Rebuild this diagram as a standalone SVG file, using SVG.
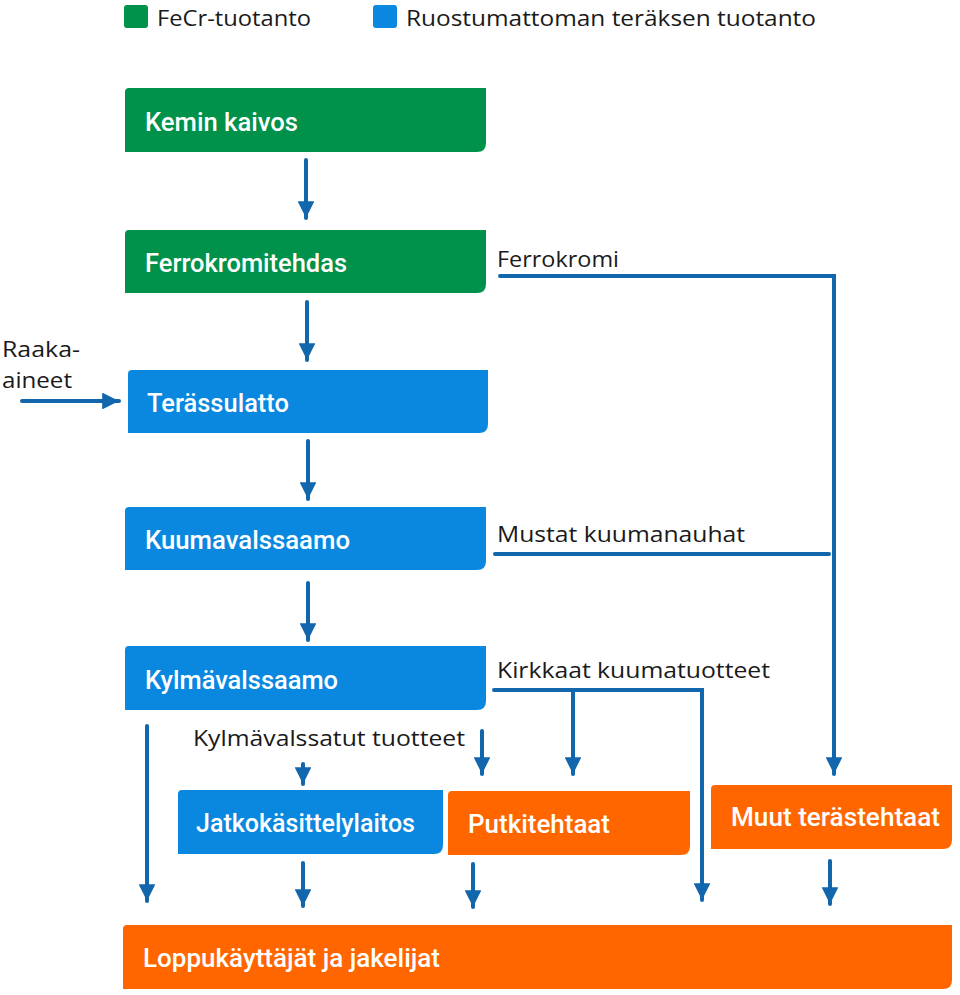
<svg xmlns="http://www.w3.org/2000/svg" width="960" height="995" viewBox="0 0 960 995">
<defs>
<style>
.box-g{fill:#00914B}
.box-b{fill:#0A88DF}
.box-o{fill:#FF6600}
.bt{font-family:Roboto,"Liberation Sans",sans-serif;font-weight:500;font-size:26px;fill:#fff}
.lt{font-family:"Open Sans","Liberation Sans",sans-serif;font-size:22px;fill:#1a1a1a}
.conn{stroke:#1266AC;stroke-width:4;fill:none;stroke-linecap:round;stroke-linejoin:miter}
</style>
<marker id="ah" viewBox="0 0 10 10" refX="10" refY="5" markerWidth="4.2" markerHeight="4.2" orient="auto" markerUnits="strokeWidth">
<path d="M0,0 L10,5 L0,10 z" fill="#1266AC"/>
</marker>
</defs>
<rect width="960" height="995" fill="#fff"/>
<g id="legend">
<rect x="124" y="5" width="24" height="23" rx="3" class="box-g"/>
<text x="157" y="26" class="lt" textLength="154" lengthAdjust="spacingAndGlyphs">FeCr-tuotanto</text>
<rect x="373" y="5" width="24" height="23" rx="3" class="box-b"/>
<text x="406" y="26" class="lt" textLength="410" lengthAdjust="spacingAndGlyphs">Ruostumattoman teräksen tuotanto</text>
</g>
<g id="connectors">
<line x1="306" y1="160" x2="306" y2="218" class="conn" marker-end="url(#ah)"/>
<line x1="307" y1="302" x2="307" y2="360" class="conn" marker-end="url(#ah)"/>
<line x1="22" y1="401" x2="119" y2="401" class="conn" marker-end="url(#ah)"/>
<line x1="308" y1="441" x2="308" y2="499" class="conn" marker-end="url(#ah)"/>
<line x1="308" y1="583" x2="308" y2="640" class="conn" marker-end="url(#ah)"/>
<polyline points="500,276 834,276 834,774" class="conn" marker-end="url(#ah)"/>
<line x1="495" y1="554" x2="829" y2="554" class="conn"/>
<polyline points="494,690 702,690 702,900" class="conn" marker-end="url(#ah)"/>
<line x1="573" y1="692" x2="573" y2="774" class="conn" marker-end="url(#ah)"/>
<line x1="147" y1="726" x2="147" y2="901" class="conn" marker-end="url(#ah)"/>
<line x1="303" y1="764" x2="303" y2="784" class="conn" marker-end="url(#ah)"/>
<line x1="482" y1="731" x2="482" y2="774" class="conn" marker-end="url(#ah)"/>
<line x1="303" y1="863" x2="303" y2="906" class="conn" marker-end="url(#ah)"/>
<line x1="473" y1="864" x2="473" y2="907" class="conn" marker-end="url(#ah)"/>
<line x1="830" y1="861" x2="830" y2="904" class="conn" marker-end="url(#ah)"/>
</g>
<g id="kemin-kaivos">
<path d="M125,92 Q125,88 129,88 L486,88 L486,143 Q486,152 477,152 L125,152 Z" class="box-g"/>
<text x="145" y="131" class="bt" textLength="153" lengthAdjust="spacingAndGlyphs">Kemin kaivos</text>
</g>
<g id="ferrokromitehdas">
<path d="M125,234 Q125,230 129,230 L486,230 L486,284 Q486,293 477,293 L125,293 Z" class="box-g"/>
<text x="145" y="272" class="bt" textLength="202" lengthAdjust="spacingAndGlyphs">Ferrokromitehdas</text>
</g>
<text x="497" y="267" class="lt" textLength="122" lengthAdjust="spacingAndGlyphs">Ferrokromi</text>
<g id="raaka-aineet">
<text x="2" y="357" class="lt" textLength="78" lengthAdjust="spacingAndGlyphs">Raaka-</text>
<text x="2" y="388" class="lt" textLength="70" lengthAdjust="spacingAndGlyphs">aineet</text>
</g>
<g id="terassulatto">
<path d="M128,374 Q128,370 132,370 L488,370 L488,424 Q488,433 479,433 L128,433 Z" class="box-b"/>
<text x="147" y="412" class="bt" textLength="142" lengthAdjust="spacingAndGlyphs">Terässulatto</text>
</g>
<g id="kuumavalssaamo">
<path d="M125,511 Q125,507 129,507 L486,507 L486,561 Q486,570 477,570 L125,570 Z" class="box-b"/>
<text x="145" y="549" class="bt" textLength="205" lengthAdjust="spacingAndGlyphs">Kuumavalssaamo</text>
</g>
<text x="497" y="542" class="lt" textLength="248" lengthAdjust="spacingAndGlyphs">Mustat kuumanauhat</text>
<g id="kylmavalssaamo">
<path d="M125,650 Q125,646 129,646 L486,646 L486,701 Q486,710 477,710 L125,710 Z" class="box-b"/>
<text x="145" y="689" class="bt" textLength="193" lengthAdjust="spacingAndGlyphs">Kylmävalssaamo</text>
</g>
<text x="497" y="678" class="lt" textLength="273" lengthAdjust="spacingAndGlyphs">Kirkkaat kuumatuotteet</text>
<text x="193" y="746" class="lt" textLength="272" lengthAdjust="spacingAndGlyphs">Kylmävalssatut tuotteet</text>
<g id="jatkokasittelylaitos">
<path d="M178,794 Q178,790 182,790 L443,790 L443,845 Q443,854 434,854 L178,854 Z" class="box-b"/>
<text x="196" y="832" class="bt" textLength="219" lengthAdjust="spacingAndGlyphs">Jatkokäsittelylaitos</text>
</g>
<g id="putkitehtaat">
<path d="M448,795 Q448,791 452,791 L690,791 L690,846 Q690,855 681,855 L448,855 Z" class="box-o"/>
<text x="468" y="833" class="bt" textLength="142" lengthAdjust="spacingAndGlyphs">Putkitehtaat</text>
</g>
<g id="muut-terastehtaat">
<path d="M711,789 Q711,785 715,785 L952,785 L952,840 Q952,849 943,849 L711,849 Z" class="box-o"/>
<text x="731" y="826" class="bt" textLength="209" lengthAdjust="spacingAndGlyphs">Muut terästehtaat</text>
</g>
<g id="loppukayttajat">
<path d="M123,929 Q123,925 127,925 L952,925 L952,980 Q952,989 943,989 L123,989 Z" class="box-o"/>
<text x="143" y="967" class="bt" textLength="297" lengthAdjust="spacingAndGlyphs">Loppukäyttäjät ja jakelijat</text>
</g>
</svg>
